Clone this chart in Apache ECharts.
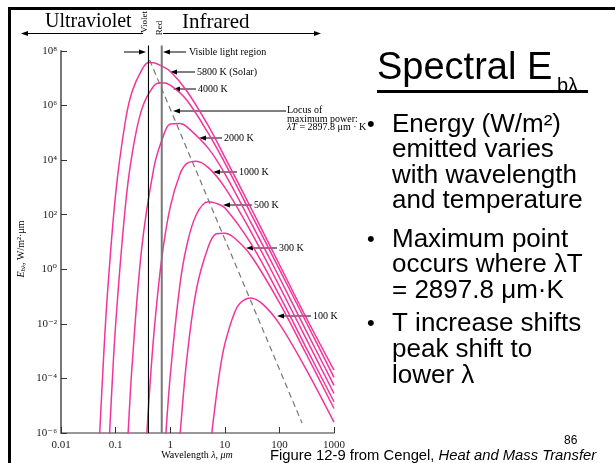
<!DOCTYPE html>
<html>
<head>
<meta charset="utf-8">
<script src="https://cdn.jsdelivr.net/npm/echarts@6/dist/echarts.min.js"></script>
<style>
html,body{margin:0;padding:0;background:#fff;}
#main{width:615px;height:463px;}
</style>
</head>
<body>
<div id="main"></div>
<script>
// curves: [wavelength um, E W/m2.um]
var temps = ['5800 K', '4000 K', '2000 K', '1000 K', '500 K', '300 K', '100 K'];
var e5800 = [[0.05,4.0e-7],[0.06,5.0e-4],[0.07,8.9e-2],[0.1,5.6e2],[0.15,2.5e5],[0.2,3.2e6],[0.3,2.0e7],[0.4,3.8e7],[0.5,3.7e7],[0.7,2.8e7],[1,1.8e7],[2,3.5e6],[5,1.8e5],[10,1.3e4],[30,1.8e2],[100,1.5],[300,1.9e-2],[1000,2.0e-4]];
var e4000 = [[0.075,2.5e-7],[0.08,3.4e-6],[0.1,8.9e-3],[0.15,1.8e2],[0.2,1.6e4],[0.3,7.1e5],[0.5,5.2e6],[0.7,6.8e6],[1,5.6e6],[2,1.6e6],[5,9.5e4],[10,7.9e3],[30,1.1e2],[100,1.0],[300,1.3e-2],[1000,1.1e-4]];
var e2000 = [[0.16,1.0e-7],[0.17,1.1e-6],[0.2,2.8e-4],[0.3,5.6],[0.5,5.0e3],[0.7,5.2e4],[1,2.1e5],[1.5,2.2e5],[2,1.7e5],[5,2.7e4],[10,3.2e3],[30,52],[100,0.5],[300,6.3e-3],[1000,5.6e-5]];
var e1000 = [[0.35,1.0e-7],[0.4,8.7e-6],[0.5,3.8e-3],[0.7,2.5],[1,1.9e2],[1.5,3.0e3],[2,7.5e3],[3,9.2e3],[5,5.3e3],[10,1.0e3],[30,24],[100,0.24],[300,3.2e-3],[1000,2.8e-5]];
var e500 = [[0.75,3.5e-8],[0.8,2.8e-7],[1,1.2e-4],[1.5,0.25],[2,7.0],[3,1.0e2],[5,3.0e2],[7,2.6e2],[10,1.8e2],[30,8.9],[100,0.11],[300,1.5e-3],[1000,1.4e-5]];
var e300 = [[1.4,9.1e-8],[1.5,6.5e-7],[2,4.5e-4],[3,0.17],[5,6.8],[7,20],[10,21],[15,14],[30,3.2],[100,6.0e-2],[300,8.9e-4],[1000,7.9e-6]];
var e100 = [[5.5,3.2e-7],[6,1.9e-6],[8,1.6e-4],[10,1.8e-3],[15,2.5e-2],[20,6.3e-2],[30,8.9e-2],[50,5.2e-2],[100,1.0e-2],[300,2.4e-4],[1000,2.5e-6]];
var locus = [[0.42,4.7e7],[260,2.3e-6]];
var violetLine = [[0.4,1e-6],[0.4,1.6e8]];
var redLine = [[0.7,1e-6],[0.7,1.6e8]];
var xTickLabels = ['0.01','0.1','1','10','100','1000'];
var yTickLabels = ['10\u207B\u2076','10\u207B\u2074','10\u207B\u00B2','10\u2070','10\u00B2','10\u2074','10\u2076','10\u2078'];

var curves = [e5800, e4000, e2000, e1000, e500, e300, e100];
var serif = 'Liberation Serif, DejaVu Serif, serif';
var sans = 'Liberation Sans, Arial, sans-serif';
var pink = '#f2359c';

var myChart = echarts.init(document.getElementById('main'));

function arrow(x1, y1, x2, y2, color, w) {
	var dir = x2 > x1 ? 1 : -1;
	return [{
		type: 'line', silent: true,
		shape: {x1: x1, y1: y1, x2: x2 - dir * 5, y2: y2},
		style: {stroke: color || '#000', lineWidth: w || 1}
	}, {
		type: 'polygon', silent: true,
		shape: {points: [[x2, y2], [x2 - dir * 7, y2 - 2.5], [x2 - dir * 7, y2 + 2.5]]},
		style: {fill: color || '#000'}
	}];
}
function txt(x, y, s, size, font, extra) {
	var o = {
		type: 'text', silent: true, x: x, y: y,
		style: {text: s, fontSize: size, fontFamily: font, fill: '#000', align: 'left', verticalAlign: 'middle'}
	};
	if (extra) {
		for (var k in extra) o.style[k] = extra[k];
	}
	return o;
}

var g = [];
// frame of the figure
g.push({type: 'rect', silent: true, shape: {x: 8, y: 7, width: 607, height: 3}, style: {fill: '#000'}});
g.push({type: 'rect', silent: true, shape: {x: 8, y: 7, width: 3, height: 456}, style: {fill: '#000'}});
// top band
g.push(txt(45, 22, 'Ultraviolet', 20, serif));
g.push(txt(182, 22, 'Infrared', 21, serif));
g = g.concat(arrow(143, 33.5, 21, 33.5));
g = g.concat(arrow(163, 33.5, 321, 33.5));
g.push(txt(145, 22, 'Violet', 9, serif, {align: 'center'}));
g[g.length - 1].rotation = Math.PI / 2;
g.push(txt(160, 28, 'Red', 9, serif, {align: 'center'}));
g[g.length - 1].rotation = Math.PI / 2;
g = g.concat(arrow(124, 52, 146, 52));
g = g.concat(arrow(186, 52, 163, 52));
g.push(txt(189, 52, 'Visible light region', 10, serif));
// curve labels
var lab = [
	['5800 K (Solar)', 197, 72, 170],
	['4000 K', 198, 89, 173],
	['2000 K', 224, 138, 199],
	['1000 K', 239, 172, 213],
	['500 K', 254, 205, 223],
	['300 K', 279, 248, 246],
	['100 K', 313, 316, 277]
];
lab.forEach(function (l) {
	g = g.concat(arrow(l[1] - 2, l[2], l[3], l[2]));
	g.push(txt(l[1], l[2], l[0], 10, serif));
});
g = g.concat(arrow(286, 111, 173, 111));
g.push(txt(287, 110, 'Locus of', 10, serif));
g.push(txt(287, 119, 'maximum power:', 10, serif, {lineHeight: 9}));
g.push(txt(287, 127, '{i|\u03BBT} = 2897.8 \u03BCm \u00B7 K', 10, serif, {rich: {i: {fontStyle: 'italic', fontSize: 10, fontFamily: serif}}}));
// axis names
g.push({
	type: 'text', silent: true, x: 21, y: 249, rotation: Math.PI / 2,
	style: {
		text: '{e|E}{s|b\u03BB}{n|, W/m\u00B2\u00B7\u03BCm}', align: 'center', verticalAlign: 'middle',
		rich: {
			e: {fontFamily: serif, fontSize: 10, fontStyle: 'italic'},
			s: {fontFamily: serif, fontSize: 7, fontStyle: 'italic', padding: [5, 0, 0, 0]},
			n: {fontFamily: serif, fontSize: 10}
		}
	}
});
g.push({
	type: 'text', silent: true, x: 197, y: 455,
	style: {
		text: 'Wavelength {i|\u03BB}, {i|\u03BCm}', align: 'center', verticalAlign: 'middle',
		fontFamily: serif, fontSize: 10,
		rich: {i: {fontFamily: serif, fontSize: 10, fontStyle: 'italic'}}
	}
});
// slide text
g.push(txt(377, 69, 'Spectral E', 38, sans));
g.push(txt(557, 86, 'b\u03BB', 20, sans));
g.push({type: 'rect', silent: true, shape: {x: 377, y: 90, width: 211, height: 3}, style: {fill: '#000'}});
var bullets = [
	[125, 'Energy (W/m\u00B2)', true],
	[150, 'emitted varies'],
	[176, 'with wavelength'],
	[201, 'and temperature'],
	[240, 'Maximum point', true],
	[265, 'occurs where \u03BBT'],
	[291, '= 2897.8 \u03BCm\u00B7K'],
	[324, 'T increase shifts', true],
	[350, 'peak shift to'],
	[376, 'lower \u03BB']
];
bullets.forEach(function (b) {
	if (b[2]) g.push(txt(367, b[0], '\u2022', 22, sans));
	g.push(txt(392, b[0], b[1], 26, sans));
});
g.push(txt(564, 441, '86', 12, sans));
g.push({
	type: 'text', silent: true, x: 270, y: 456,
	style: {
		text: 'Figure 12-9 from Cengel, {i|Heat and Mass Transfer}', align: 'left', verticalAlign: 'middle',
		fontFamily: sans, fontSize: 14.8, fill: '#000',
		rich: {i: {fontFamily: sans, fontSize: 14.8, fontStyle: 'italic'}}
	}
});

var series = curves.map(function (c, i) {
	return {
		name: temps[i], type: 'line', data: c, showSymbol: false, smooth: 0.35,
		lineStyle: {color: pink, width: 1.5}, z: 3
	};
});
series.push({
	type: 'line', data: locus, showSymbol: false,
	lineStyle: {color: '#777', width: 1.2, type: [6, 4]}, z: 2
});
series.push({
	type: 'line', data: violetLine, showSymbol: false, clip: false,
	lineStyle: {color: '#000', width: 1.1}, z: 4
});
series.push({
	type: 'line', data: redLine, showSymbol: false, clip: false,
	lineStyle: {color: '#777', width: 2}, z: 4
});

myChart.setOption({
	backgroundColor: '#fff',
	animation: false,
	grid: {left: 61, top: 51, width: 273, height: 382},
	xAxis: {
		type: 'log', logBase: 10, min: 0.01, max: 1000,
		axisLine: {lineStyle: {color: '#777', width: 1.5}},
		axisTick: {inside: true, length: 6, lineStyle: {color: '#333'}},
		minorTick: {show: false},
		splitLine: {show: false},
		axisLabel: {
			color: '#222', fontFamily: serif, fontSize: 11, margin: 7,
			formatter: function (v, i) { return xTickLabels[i]; }
		}
	},
	yAxis: {
		type: 'log', logBase: 10, min: 1e-6, max: 1e8, interval: 2, splitNumber: 7,
		axisLine: {lineStyle: {color: '#777', width: 2}},
		axisTick: {inside: true, length: 6, lineStyle: {color: '#333'}},
		minorTick: {show: false},
		splitLine: {show: false},
		axisLabel: {
			color: '#222', fontFamily: serif, fontSize: 11, margin: 4,
			formatter: function (v, i) { return yTickLabels[i]; }
		}
	},
	series: series,
	graphic: g
});
</script>
</body>
</html>
